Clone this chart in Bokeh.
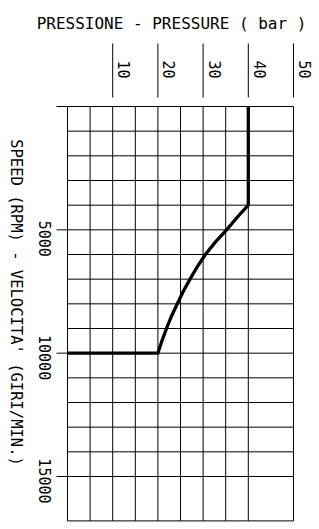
from math import pi
from bokeh.plotting import figure
from bokeh.models import Range1d
from bokeh.core.properties import value
from bokeh.embed import file_html
from bokeh.resources import INLINE

# ---- data ----
pressure_ticks = [10, 20, 30, 40, 50]
pressure_labels = ["10", "20", "30", "40", "50"]
speed_ticks = [0, 5000, 10000, 15000]
speed_labels = ["", "5000", "10000", "15000"]
grid_pressure = [0, 5, 10, 15, 20, 25, 30, 35, 40, 50]
grid_speed = [0, 1000, 2000, 3000, 4000, 5000, 6000, 7000, 8000, 9000,
              10000, 11000, 12000, 13000, 14000, 15000, 16800]
curve_speed = [0, 4000, 4500, 5000, 5500, 6000, 6500, 7000, 7500, 8000,
               8500, 9000, 9500, 10000, 10000]
curve_pressure = [40, 40, 37.5, 35.2, 32.7, 30.5, 28.7, 27.1, 25.6, 24.3,
                  23.0, 21.9, 20.9, 20.0, 0]
x_title = "PRESSIONE - PRESSURE ( bar )"
y_title = "SPEED (RPM) - VELOCITA' (GIRI/MIN.)"

# ---- layout ----
W, H = 315, 525
ORG = 0              # page offset of the figure
kx = 4.52            # px per bar
ky = 370.0 / 15000   # px per rpm
X0 = -(67 - ORG) / kx
X1 = X0 + W / kx
Y0 = -(106 - ORG) / ky
Y1 = Y0 + H / ky
SHIFT = 5.5          # baseline correction, px

def px_x(page_x):
    return (page_x - 67) / kx

def px_y(page_y):
    return (page_y - 106) / ky

P_MAX = grid_pressure[-1]
S_MAX = grid_speed[-1]

p = figure(width=W, height=H, output_backend="svg", toolbar_location=None,
           x_range=Range1d(X0, X1), y_range=Range1d(Y1, Y0),
           x_axis_type=None, y_axis_type=None, min_border=0)
p.outline_line_color = None
p.background_fill_color = "white"
p.border_fill_color = "white"

FONT = value("DejaVu Sans Mono")

# grid
p.segment(x0=grid_pressure, y0=[0] * len(grid_pressure),
          x1=grid_pressure, y1=[S_MAX] * len(grid_pressure),
          line_color="black", line_width=1)
p.segment(x0=[0] * len(grid_speed), y0=grid_speed,
          x1=[P_MAX] * len(grid_speed), y1=grid_speed,
          line_color="black", line_width=1)

# top ticks (long, detached)
p.segment(x0=pressure_ticks, y0=[px_y(43)] * len(pressure_ticks),
          x1=pressure_ticks, y1=[px_y(97)] * len(pressure_ticks),
          line_color="black", line_width=1)
# left ticks
p.segment(x0=[px_x(56)] * len(speed_ticks), y0=speed_ticks,
          x1=[0] * len(speed_ticks), y1=speed_ticks,
          line_color="black", line_width=1)

# curve
p.line(curve_pressure, curve_speed, line_color="black", line_width=3.3,
       line_join="miter")

# top tick labels
p.text(x=[t + (6 + SHIFT) / kx for t in pressure_ticks],
       y=[px_y(60)] * len(pressure_ticks),
       text=pressure_labels, angle=-pi / 2, text_align="left",
       text_baseline="alphabetic", text_font=FONT, text_font_size="15px",
       text_color="black")

# left tick labels
p.text(x=[px_x(39 + SHIFT)] * len(speed_ticks), y=[s + 27 / ky for s in speed_ticks],
       text=speed_labels, angle=-pi / 2, text_align="right",
       text_baseline="alphabetic", text_font=FONT, text_font_size="15px",
       text_color="black")

# titles
p.text(x=[px_x(171)], y=[px_y(28 - SHIFT)], text=[x_title], text_align="center",
       text_baseline="alphabetic", text_font=FONT, text_font_size="16px",
       text_color="black")
p.text(x=[px_x(10 + SHIFT)], y=[px_y(302)], text=[y_title], angle=-pi / 2,
       text_align="center", text_baseline="alphabetic", text_font=FONT,
       text_font_size="15.5px", text_color="black")

open("out.html", "w").write(file_html(p, INLINE))
